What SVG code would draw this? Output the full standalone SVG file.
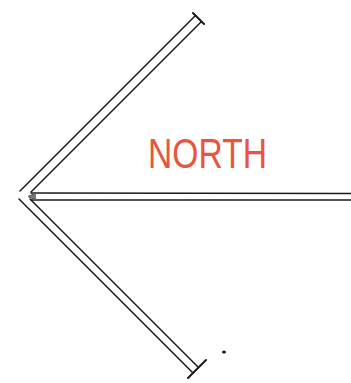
<svg xmlns="http://www.w3.org/2000/svg" width="351" height="383" viewBox="0 0 351 383">
<style>
.ln{stroke:#1a1a1a;stroke-width:1.5;fill:none;stroke-linecap:round}
.lbl{font-family:"Liberation Sans",Arial,sans-serif;font-size:42px;fill:#e8563c}
</style>
<rect width="351" height="383" fill="#ffffff"/>
<g id="connectors">
<g id="shaft">
<line class="ln" x1="31" y1="193" x2="351" y2="193.5"/>
<line class="ln" x1="31" y1="200" x2="351" y2="200"/>
<path d="M36 193 L28 196.5 L36 200" fill="#777" stroke="#555" stroke-width="1"/>
</g>
<g id="upper-arm">
<line class="ln" x1="20" y1="191" x2="195" y2="16"/>
<line class="ln" x1="31" y1="192" x2="201" y2="22"/>
<line class="ln" x1="193" y1="13" x2="204" y2="24" style="stroke-width:2"/>
</g>
<g id="lower-arm">
<line class="ln" x1="19" y1="199" x2="193" y2="373"/>
<line class="ln" x1="30" y1="199" x2="198" y2="367"/>
<line class="ln" x1="188" y1="378" x2="206" y2="360" style="stroke-width:2"/>
<ellipse cx="224" cy="352" rx="2" ry="1.5" fill="#1a1a1a"/>
</g>
</g>
<g id="label">
<text class="lbl" x="148" y="168" textLength="119" lengthAdjust="spacingAndGlyphs">NORTH</text>
</g>
</svg>
